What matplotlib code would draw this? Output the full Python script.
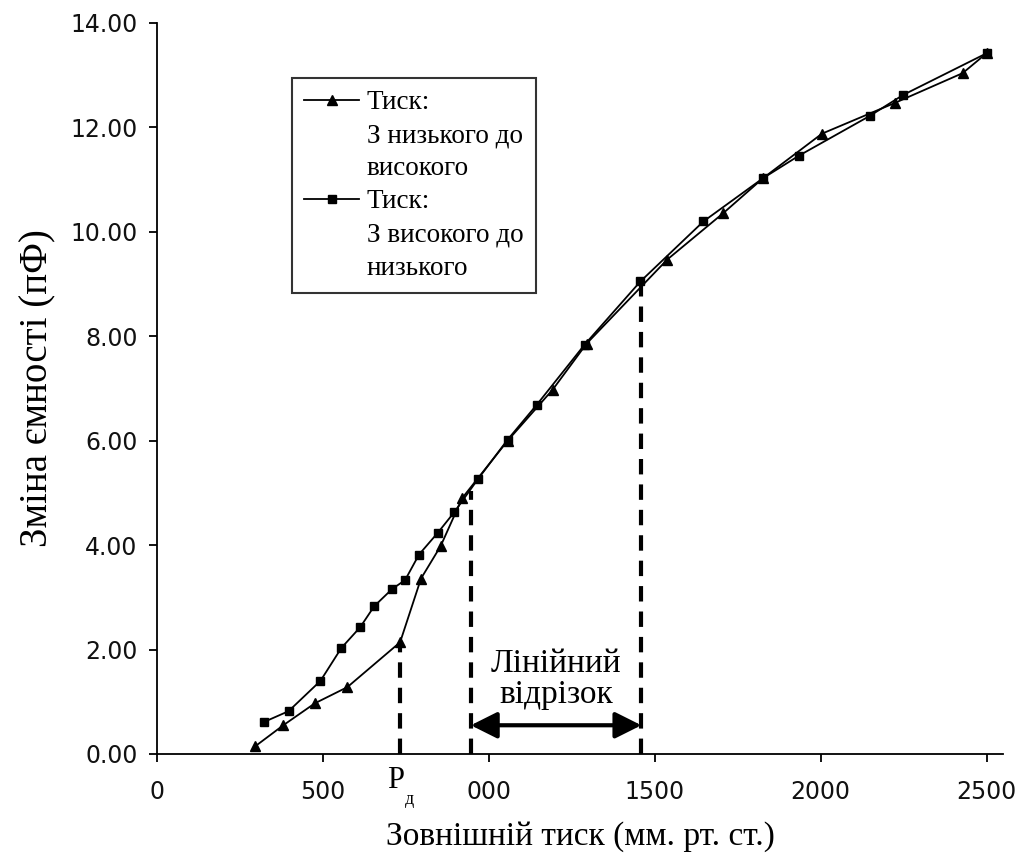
import numpy as np
import matplotlib
matplotlib.use("Agg")
import matplotlib.pyplot as plt
from matplotlib.lines import Line2D

# pressure rising (triangles)
up_x = [297, 381, 476, 574, 733, 796, 855, 920, 1057, 1193, 1295, 1538, 1707, 1827, 2004, 2224, 2428, 2500]
up_y = [0.15, 0.55, 0.97, 1.28, 2.14, 3.36, 3.98, 4.90, 6.00, 6.98, 7.86, 9.47, 10.36, 11.03, 11.88, 12.47, 13.04, 13.42]

# pressure falling (squares)
down_x = [322, 397, 493, 556, 613, 655, 709, 748, 790, 847, 896, 967, 1057, 1145, 1289, 1457, 1647, 1827, 1935, 2148, 2248, 2500]
down_y = [0.61, 0.82, 1.40, 2.03, 2.43, 2.83, 3.16, 3.33, 3.82, 4.24, 4.63, 5.26, 6.02, 6.69, 7.84, 9.05, 10.20, 11.03, 11.46, 12.22, 12.62, 13.42]

# dashed markers: P_d, start and end of the linear part
mark_x = [733, 946, 1460]
mark_top = [2.14, 5.03, 9.08]
arrow_y = 0.55

xticks = [0, 500, 1000, 1500, 2000, 2500]
xtick_labels = ["0", "500", "000", "1500", "2000", "2500"]
yticks = np.arange(0, 16, 2)

serif = "Liberation Serif"

fig = plt.figure(figsize=(10.25, 8.61), dpi=100)
ax = fig.add_axes([0.153, 0.1243, 0.8257, 0.849])

l1, = ax.plot(up_x, up_y, color="black", lw=1.3, marker="^", ms=7)
l2, = ax.plot(down_x, down_y, color="black", lw=1.3, marker="s", ms=5.5)

ax.vlines(mark_x, 0, mark_top, colors="black", lw=3, linestyles=(0, (3.7, 2.4)))
ax.annotate("", xy=(mark_x[1], arrow_y), xytext=(mark_x[2], arrow_y),
            arrowprops=dict(arrowstyle="<|-|>", lw=3, color="black",
                            mutation_scale=40, shrinkA=0, shrinkB=0))
ax.text((mark_x[1] + mark_x[2]) / 2, 1.43, "Лінійний\nвідрізок", ha="center", va="center",
        fontsize=24, family=serif, linespacing=1.0)

# P with cyrillic subscript under the axis
ax.annotate("P", xy=(mark_x[0], 0), xycoords=("data", "axes fraction"),
            xytext=(-3, -9), textcoords="offset points", ha="center", va="top",
            fontsize=22, family=serif)
ax.annotate("д", xy=(mark_x[0], 0), xycoords=("data", "axes fraction"),
            xytext=(7, -27), textcoords="offset points", ha="center", va="top",
            fontsize=13, family=serif)

ax.set_xlim(0, 2550)
ax.set_ylim(0, 14)
ax.set_xticks(xticks)
ax.set_xticklabels(xtick_labels)
ax.set_yticks(yticks)
ax.set_yticklabels(["%.2f" % v for v in yticks])
for s in ["top", "right"]:
    ax.spines[s].set_visible(False)
for s in ["left", "bottom"]:
    ax.spines[s].set_linewidth(1.3)
ax.tick_params(direction="out", length=6, width=1.3, labelsize=17)
ax.tick_params(axis="x", pad=13)
ax.tick_params(axis="y", pad=8)
for t in ax.get_xticklabels() + ax.get_yticklabels():
    t.set_family("DejaVu Sans")
    t.set_color("#111111")

ax.set_xlabel("Зовнішній тиск (мм. рт. ст.)", fontsize=24, family=serif, labelpad=12)
ax.set_ylabel("Зміна ємності (пФ)", fontsize=28, family=serif, labelpad=10)

# legend: handle next to the first line of each label
blank = Line2D([], [], linestyle="none")
handles = [l1, blank, blank, l2, blank, blank]
labels = ["Тиск:", "З низького до", "високого", "Тиск:", "З високого до", "низького"]
leg = ax.legend(handles, labels, loc="upper left", bbox_to_anchor=(0.16, 0.925), borderaxespad=0,
                frameon=True, fancybox=False, edgecolor="black",
                prop={"family": serif, "size": 19.5}, handlelength=2.0,
                borderpad=0.45, labelspacing=0.3, handletextpad=0.3)
leg.get_frame().set_linewidth(1.5)

fig.savefig("out.png", dpi=100)
